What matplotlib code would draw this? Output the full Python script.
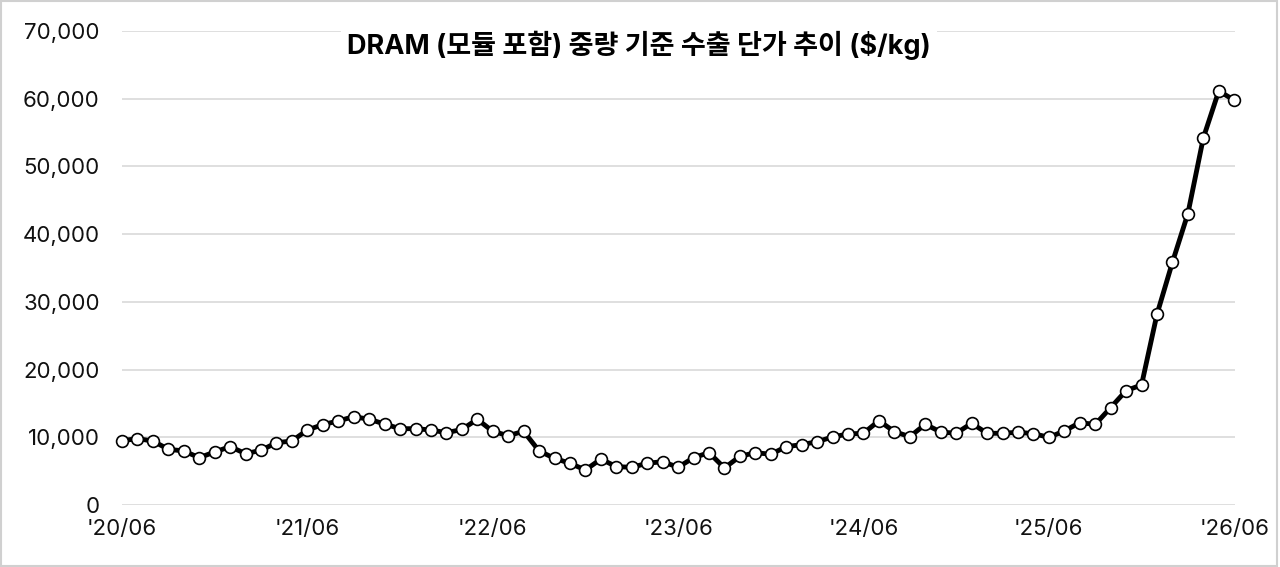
import matplotlib
matplotlib.use("Agg")
import matplotlib.pyplot as plt
from matplotlib.patches import Rectangle

plt.rcParams['font.family'] = ['Inter', 'Noto Sans CJK KR', 'DejaVu Sans']

# Monthly DRAM export unit price ($/kg), 2020/06 .. 2026/06
values = [
    9500, 9800, 9450, 8230, 7980, 6990, 7830, 8620, 7580, 8080, 9200, 9450,
    11080, 11870, 12410, 13050, 12660, 11960, 11270, 11270, 11080, 10680, 11150, 12660,
    10880, 10240, 10880, 7980, 6890, 6160, 5170, 6790, 5660, 5570, 6160, 6400,
    5570, 6990, 7730, 5470, 7190, 7730, 7490, 8620, 8910, 9350, 10050, 10490,
    10590, 12450, 10830, 10090, 11920, 10780, 10590, 12070, 10590, 10590, 10740, 10540,
    9990, 10930, 12160, 11900, 14380, 16890, 17730, 28170, 35850, 43030, 54210, 61150,
    59780,
]
tick_labels = ["'20/06", "'21/06", "'22/06", "'23/06", "'24/06", "'25/06", "'26/06"]
y_ticks = [0, 10000, 20000, 30000, 40000, 50000, 60000, 70000]
title = "DRAM (모듈 포함) 중량 기준 수출 단가 추이 ($/kg)"

W, H = 1280, 567
fig = plt.figure(figsize=(W / 100, H / 100), dpi=100)
ax = fig.add_axes([122 / W, (H - 505) / H, (1235 - 122) / W, (505 - 31) / H])

x = list(range(len(values)))
ax.plot(x, values, color='black', lw=3.5, marker='o', ms=8.5,
        mfc='white', mec='black', mew=1.2, clip_on=False, zorder=3)

ax.set_xlim(0, 72.05)
ax.set_ylim(0, 70000)
ax.set_yticks(y_ticks)
ax.set_yticklabels([f"{v:,}" for v in y_ticks])
ax.set_xticks([i * 12 for i in range(len(tick_labels))])
ax.set_xticklabels(tick_labels)
ax.tick_params(axis='both', length=0, labelsize=16, colors='#111111')
ax.tick_params(axis='y', pad=16)
ax.tick_params(axis='x', pad=10)
ax.grid(axis='y', color='#d9d9d9', lw=1.2, zorder=0)
ax.set_axisbelow(True)
for s in ax.spines.values():
    s.set_visible(False)

fig.text(639 / W, 1 - 45 / H, title, ha='center', va='center',
         fontsize=19.5, fontweight='bold', color='black',
         bbox=dict(facecolor='white', edgecolor='none', pad=4))

fig.patches.append(Rectangle((0.001, 0.002), 0.997, 0.996, transform=fig.transFigure,
                             fill=False, edgecolor='#d0d0d0', lw=1.5))

fig.savefig("out.png", dpi=100, facecolor='white')
